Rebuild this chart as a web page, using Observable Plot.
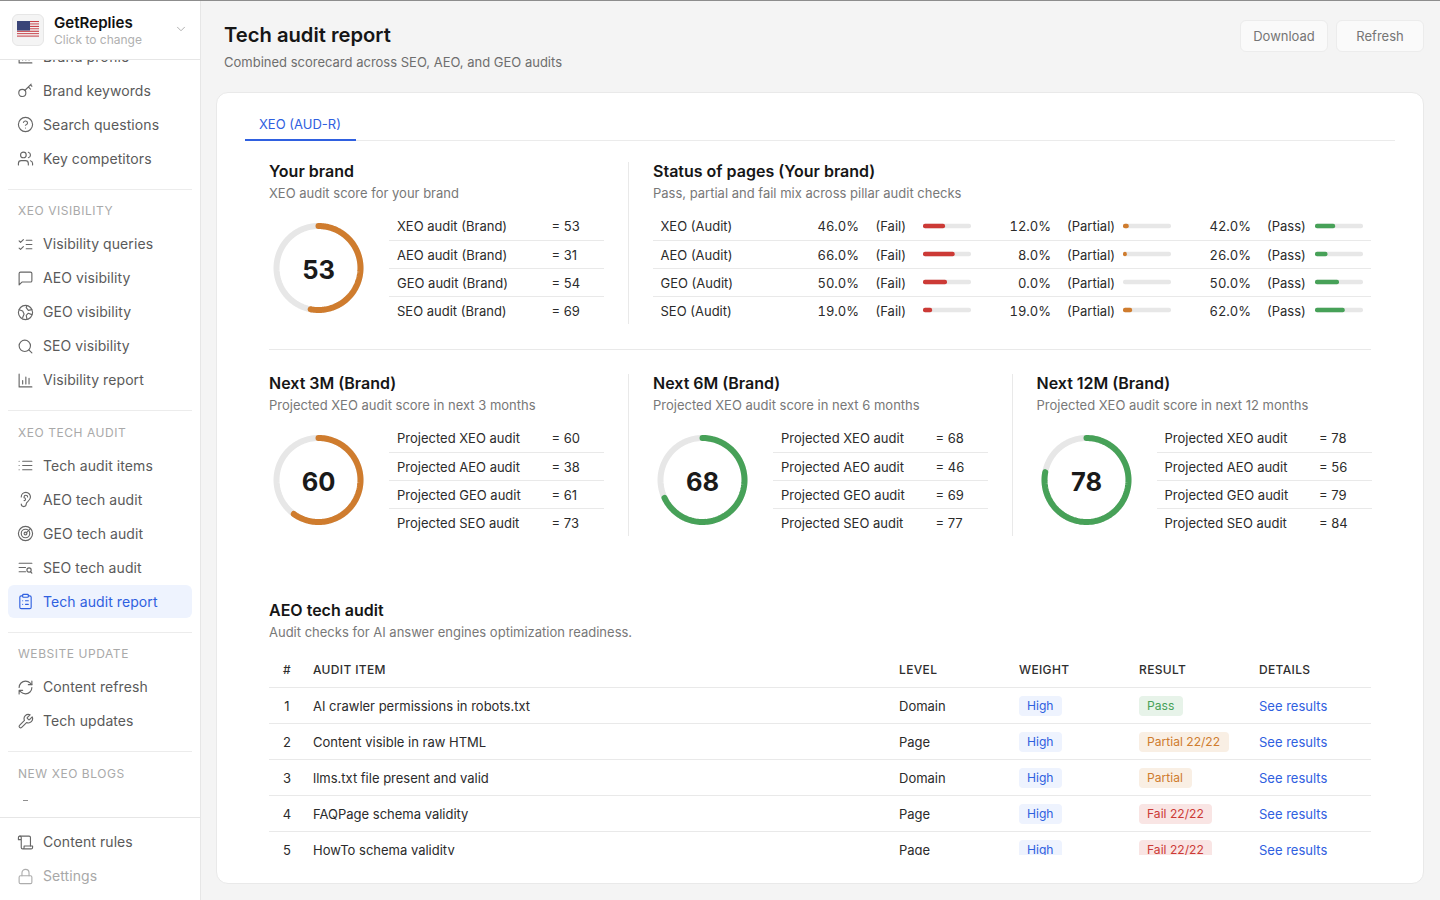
<!DOCTYPE html>
<html lang="en">
<head>
<meta charset="utf-8">
<title>Tech audit report</title>
<script src="https://cdn.jsdelivr.net/npm/d3@7"></script>
<script src="https://cdn.jsdelivr.net/npm/@observablehq/plot@0.6"></script>
<style>
html,body{margin:0;padding:0;width:1440px;height:900px;overflow:hidden;background:#f4f4f4;font-family:Inter,"Noto Sans",sans-serif;-webkit-font-smoothing:antialiased}
#page{position:absolute;left:0;top:0;width:1440px;height:900px;overflow:hidden}
.t{position:absolute;white-space:nowrap;transform:translateY(-50%);line-height:1.2}
.box{position:absolute;box-sizing:border-box}
.chart{position:absolute}
.chart svg{display:block;overflow:visible}
.ic{position:absolute;fill:none;stroke:#666;stroke-width:1.6;stroke-linecap:round;stroke-linejoin:round}
</style>
</head>
<body>
<div id="page"></div>
<script>
// ---------- chart values ----------
const brandLabels = ["XEO audit (Brand)", "AEO audit (Brand)", "GEO audit (Brand)", "SEO audit (Brand)"];
const brandScores = [53, 31, 54, 69];
const projectedLabels = ["Projected XEO audit", "Projected AEO audit", "Projected GEO audit", "Projected SEO audit"];
const next3MScores = [60, 38, 61, 73];
const next6MScores = [68, 46, 69, 77];
const next12MScores = [78, 56, 79, 84];

const pillars = ["XEO (Audit)", "AEO (Audit)", "GEO (Audit)", "SEO (Audit)"];
const failShare = [46, 66, 50, 19];
const partialShare = [12, 8, 0, 19];
const passShare = [42, 26, 50, 62];

const auditItems = ["AI crawler permissions in robots.txt", "Content visible in raw HTML", "llms.txt file present and valid", "FAQPage schema validity", "HowTo schema validity"];
const auditLevels = ["Domain", "Page", "Domain", "Page", "Page"];
const auditWeights = ["High", "High", "High", "High", "High"];
const auditResults = ["Pass", "Partial 22/22", "Partial", "Fail 22/22", "Fail 22/22"];
const auditHeaders = ["#", "AUDIT ITEM", "LEVEL", "WEIGHT", "RESULT", "DETAILS"];

const navGroups = [
  {items: [["Brand profile","chart"],["Brand keywords","key"],["Search questions","help"],["Key competitors","users"]]},
  {title:"XEO VISIBILITY", items: [["Visibility queries","checks"],["AEO visibility","msg"],["GEO visibility","globe"],["SEO visibility","search"],["Visibility report","chart"]]},
  {title:"XEO TECH AUDIT", items: [["Tech audit items","list"],["AEO tech audit","ear"],["GEO tech audit","radar"],["SEO tech audit","listsearch"],["Tech audit report","clip"]]},
  {title:"WEBSITE UPDATE", items: [["Content refresh","refresh"],["Tech updates","wrench"]]},
  {title:"NEW XEO BLOGS", items: []}
];

// ---------- palette ----------
const ORANGE="#cf7c2e", GREEN="#47a158", RED="#cc3a36", BLUE="#2f60e0", TRACK="#e7e7e7", LINE="#e9e9e9";
const INK="#2b2b2b", HEAD="#161616", MUTED="#787878";

// ---------- helpers ----------
const page=document.getElementById("page");
function text(parent,x,y,s,o={}){
  const e=document.createElement("div");e.className="t";e.textContent=s;
  e.style.left=x+"px";e.style.top=(y+(o.net?0:1))+"px";
  e.style.fontSize=(o.size||13)+"px";e.style.color=o.color||INK;e.style.fontWeight=o.weight||400;
  if(o.ls)e.style.letterSpacing=o.ls+"px";
  if(o.tab)e.style.fontVariantNumeric="tabular-nums";
  if(o.right){e.style.left="auto";e.style.right=(1440-x)+"px";}
  if(o.center){e.style.transform="translate(-50%,-50%)";}
  parent.appendChild(e);return e;
}
function box(parent,x,y,w,h,st={}){
  const e=document.createElement("div");e.className="box";
  e.style.left=x+"px";e.style.top=y+"px";e.style.width=w+"px";e.style.height=h+"px";
  Object.assign(e.style,st);parent.appendChild(e);return e;
}
const hline=(p,x1,x2,y,c=LINE)=>box(p,x1,y,x2-x1,1,{background:c});
const vline=(p,x,y1,y2,c=LINE)=>box(p,x,y1,1,y2-y1,{background:c});
const rowNudge=i=>i?0.8:0;

const icons={
  key:'<circle cx="7.5" cy="15.5" r="5"/><path d="m11 12 9-9M16 7l3 3M19 4l2 2"/>',
  help:'<circle cx="12" cy="12" r="10"/><path d="M9.1 9a3 3 0 0 1 5.8 1c0 2-3 3-3 3M12 17h.01"/>',
  users:'<path d="M16 21v-2a4 4 0 0 0-4-4H6a4 4 0 0 0-4 4v2"/><circle cx="9" cy="7" r="4"/><path d="M22 21v-2a4 4 0 0 0-3-3.87M16 3.13a4 4 0 0 1 0 7.75"/>',
  checks:'<path d="m3 7 2 2 4-4M3 17l2 2 4-4M13 6h8M13 12h8M13 18h8"/>',
  msg:'<path d="M21 15a2 2 0 0 1-2 2H7l-4 4V5a2 2 0 0 1 2-2h14a2 2 0 0 1 2 2z"/>',
  globe:'<circle cx="12" cy="12" r="10"/><path d="M3 8l5 2 2 4-2 5M21 8l-5 1-3-4 1-3M21 15l-5-2-3 3 1 5"/>',
  search:'<circle cx="11" cy="11" r="8"/><path d="m21 21-4.3-4.3"/>',
  chart:'<path d="M3 3v18h18M8 17v-5M12.5 17V7M17 17v-8"/>',
  list:'<path d="M8 6h13M8 12h13M8 18h13M3 6h.01M3 12h.01M3 18h.01"/>',
  ear:'<path d="M6 8.5a6.5 6.5 0 1 1 13 0c0 6-6 6-6 10a3.5 3.5 0 1 1-7 0"/><path d="M15 8.5a2.5 2.5 0 0 0-5 0v1a2 2 0 1 1 0 4"/>',
  radar:'<circle cx="12" cy="12" r="10"/><circle cx="12" cy="12" r="6"/><circle cx="12" cy="12" r="2"/><path d="m13 11 6-6"/>',
  listsearch:'<path d="M3 6h18M3 12h9M3 18h9"/><circle cx="17" cy="15.5" r="3"/><path d="m21 20-1.8-2"/>',
  clip:'<rect x="8" y="2" width="8" height="4" rx="1"/><path d="M16 4h2a2 2 0 0 1 2 2v14a2 2 0 0 1-2 2H6a2 2 0 0 1-2-2V6a2 2 0 0 1 2-2h2M12 11h4M12 16h4M8 11h.01M8 16h.01"/>',
  refresh:'<path d="M3 12a9 9 0 0 1 9-9 9.75 9.75 0 0 1 6.74 2.74L21 8"/><path d="M21 3v5h-5M21 12a9 9 0 0 1-9 9 9.75 9.75 0 0 1-6.74-2.74L3 16M8 16H3v5"/>',
  wrench:'<path d="M14.7 6.3a1 1 0 0 0 0 1.4l1.6 1.6a1 1 0 0 0 1.4 0l3.77-3.77a6 6 0 0 1-7.94 7.94l-6.91 6.91a2.12 2.12 0 0 1-3-3l6.91-6.91a6 6 0 0 1 7.94-7.94l-3.76 3.76z"/>',
  scroll:'<path d="M8 21h12a2 2 0 0 0 2-2v-2H10v2a2 2 0 1 1-4 0V5a2 2 0 1 0-4 0v3h4"/><path d="M19 17V5a2 2 0 0 0-2-2H4"/>',
  lock:'<rect x="3" y="11" width="18" height="11" rx="2"/><path d="M7 11V7a5 5 0 0 1 10 0v4"/>',
  chev:'<path d="m6 9 6 6 6-6"/>'
};
function icon(parent,name,cx,cy,color,size=17){
  const d=document.createElement("div");
  d.innerHTML=`<svg class="ic" viewBox="0 0 24 24" width="${size}" height="${size}" style="left:${cx-size/2}px;top:${cy-size/2}px;stroke:${color||"#666"}">${icons[name]}</svg>`;
  parent.appendChild(d.firstChild);
}
const scoreColor=s=>s>=65?GREEN:s>=40?ORANGE:RED;

// ---------- Plot marks ----------
function donut(cx,cy,score){
  const ring=f=>d3.range(0,121).map(i=>{const a=i/120*f*2*Math.PI;return {x:Math.sin(a),y:Math.cos(a)};});
  const half=50/42;
  const p=Plot.plot({
    width:100,height:100,margin:0,
    x:{domain:[-half,half],axis:null},
    y:{domain:[-half,half],axis:null},
    style:{background:"transparent"},
    marks:[
      Plot.line(ring(1),{x:"x",y:"y",dx:-1,dy:-0.5,stroke:TRACK,strokeWidth:6,curve:"linear"}),
      Plot.line(ring(score/100),{x:"x",y:"y",dx:-1,dy:-0.5,stroke:scoreColor(score),strokeWidth:6,strokeLinecap:"round",curve:"linear"}),
      Plot.text([score],{x:()=>0,y:()=>0,text:d=>String(d),dx:-1,dy:2,fontSize:25.5,fontWeight:700,fill:"#1a1a1a",fontFamily:"Inter"})
    ]
  });
  const w=document.createElement("div");w.className="chart";
  w.style.left=(cx-50)+"px";w.style.top=(cy-50)+"px";w.appendChild(p);page.appendChild(w);
}
function statusBars(x,y,values,color){
  const rows=pillars.map((p,i)=>({pillar:p,value:values[i]}));
  const p=Plot.plot({
    width:48,height:112,margin:0,
    x:{domain:[0,100],axis:null},
    y:{domain:pillars,axis:null,paddingInner:0.84,paddingOuter:0.42,align:0.5,round:false},
    style:{background:"transparent"},
    marks:[
      Plot.barX(rows,{x1:()=>0,x2:()=>100,y:"pillar",fill:TRACK,rx:2}),
      Plot.barX(rows,{x1:()=>0,x2:"value",y:"pillar",fill:color,rx:2})
    ]
  });
  const w=document.createElement("div");w.className="chart";
  w.style.left=x+"px";w.style.top=y+"px";w.appendChild(p);page.appendChild(w);
}

// ---------- main header ----------
box(page,0,0,1440,1,{background:"#8d8d8d",zIndex:5});
text(page,224,34,"Tech audit report",{size:20.2,weight:600,color:HEAD});
text(page,224,62,"Combined scorecard across SEO, AEO, and GEO audits",{size:13,color:"#6e6e6e"});
[["Download",1240,88],["Refresh",1336,88]].forEach(([s,x,w])=>{
  box(page,x,20,w,32,{background:"#fafafa",border:"1px solid #ececec",borderRadius:"6px"});
  text(page,x+w/2,36.5,s,{size:13,color:"#757575",center:true,net:true});
});

// ---------- card ----------
box(page,216,92,1208,792,{background:"#fff",border:"1px solid #e9e9e9",borderRadius:"12px"});
text(page,259,124,"XEO (AUD-R)",{size:13,color:BLUE});
hline(page,245,1395,140,"#ebebeb");
box(page,245,139,111,2,{background:BLUE});

// ---------- score panels ----------
function panel(x,y,title,sub,score,labels,scores){
  text(page,x,y,title,{size:16,weight:600,color:HEAD});
  text(page,x,y+22,sub,{size:13,color:MUTED});
  donut(x+50,y+97,score);
  labels.forEach((l,i)=>{
    const ry=y+55+i*28;
    text(page,x+128,ry+rowNudge(i),l,{size:13});
    text(page,x+282.5,ry+rowNudge(i),"= "+scores[i],{size:13});
    if(i<3)hline(page,x+120,x+335,ry+14);
  });
}
panel(269,171,"Your brand","XEO audit score for your brand",brandScores[0],brandLabels,brandScores);
vline(page,628,162,324);
hline(page,269,1371,349);
panel(269,383,"Next 3M (Brand)","Projected XEO audit score in next 3 months",next3MScores[0],projectedLabels,next3MScores);
vline(page,628,374,536);
panel(653,383,"Next 6M (Brand)","Projected XEO audit score in next 6 months",next6MScores[0],projectedLabels,next6MScores);
vline(page,1012,374,536);
panel(1036.5,383,"Next 12M (Brand)","Projected XEO audit score in next 12 months",next12MScores[0],projectedLabels,next12MScores);

// ---------- status of pages ----------
text(page,653,171,"Status of pages (Your brand)",{size:16,weight:600,color:HEAD});
text(page,653,193,"Pass, partial and fail mix across pillar audit checks",{size:13,color:MUTED});
pillars.forEach((p,i)=>{
  const y=226+i*28, ty=y+rowNudge(i);
  text(page,660.5,ty,p,{size:13});
  text(page,859,ty,failShare[i].toFixed(1)+"%",{size:13,right:true,tab:true});
  text(page,875.5,ty,"(Fail)",{size:13});
  text(page,1051,ty,partialShare[i].toFixed(1)+"%",{size:13,right:true,tab:true});
  text(page,1067,ty,"(Partial)",{size:13});
  text(page,1251,ty,passShare[i].toFixed(1)+"%",{size:13,right:true,tab:true});
  text(page,1267,ty,"(Pass)",{size:13});
  if(i<3)hline(page,653,1371,y+14);
});
statusBars(923,212,failShare,RED);
statusBars(1123,212,partialShare,ORANGE);
statusBars(1315,212,passShare,GREEN);

// ---------- audit table ----------
text(page,269,610,"AEO tech audit",{size:16,weight:600,color:HEAD});
text(page,269,632,"Audit checks for AI answer engines optimization readiness.",{size:13,color:MUTED});
const clip=box(page,0,0,1440,855,{overflow:"hidden"});
const cols=[283,313,899,1019,1139,1259];
auditHeaders.forEach((h,i)=>text(clip,cols[i],669,h,{size:12,weight:500,ls:0.35,color:"#2e2e2e"}));
hline(clip,269,1371,687);
const badge={Pass:[GREEN,"#e7f3e9"],Partial:[ORANGE,"#f9efe4"],Fail:[RED,"#f9e5e4"]};
const badgeW={"Pass":44,"Partial 22/22":90,"Partial":53,"Fail 22/22":73};
auditItems.forEach((it,i)=>{
  const y=705.5+i*36;
  text(clip,287,y,String(i+1),{size:13,center:true});
  text(clip,313,y,it,{size:13});
  text(clip,899,y,auditLevels[i],{size:13});
  box(clip,1019,y-10,43,20,{background:"#eef3fe",borderRadius:"4px"});
  text(clip,1027,y,auditWeights[i],{size:12.1,color:BLUE,net:true});
  const r=auditResults[i],c=badge[r.split(" ")[0]];
  box(clip,1139,y-10,badgeW[r],20,{background:c[1],borderRadius:"4px"});
  text(clip,1147,y,r,{size:12.1,color:c[0],net:true});
  text(clip,1259,y,"See results",{size:13,color:BLUE});
  if(i<4)hline(clip,269,1371,y+17.5);
});

// ---------- sidebar ----------
box(page,0,0,201,900,{background:"#fff",borderRight:"1px solid #e6e6e6"});
const navY={"Brand profile":56.5,"Brand keywords":90.5,"Search questions":124.5,"Key competitors":158.5,
"Visibility queries":244,"AEO visibility":278,"GEO visibility":312,"SEO visibility":346,"Visibility report":380,
"Tech audit items":465.5,"AEO tech audit":499.5,"GEO tech audit":533.5,"SEO tech audit":567.5,"Tech audit report":601.5,
"Content refresh":687,"Tech updates":721};
const titleY={"XEO VISIBILITY":211,"XEO TECH AUDIT":432.5,"WEBSITE UPDATE":654,"NEW XEO BLOGS":773.5};
[189,410,632,751].forEach(y=>hline(page,8,192,y,"#ececec"));
box(page,8,585,184,33,{background:"#eef3fe",borderRadius:"6px"});
navGroups.forEach(g=>{
  if(g.title)text(page,18,titleY[g.title],g.title,{size:12,ls:0.55,color:"#a9a9a9",net:true});
  g.items.forEach(([s,ic])=>{
    const active=s==="Tech audit report";
    icon(page,ic,25.5,navY[s],active?BLUE:"#666");
    text(page,43,navY[s],s,{size:14,ls:0.08,color:active?BLUE:"#5a5a5a",net:true});
  });
});
box(page,23,800,5,1,{background:"#777"});
// brand switcher on top of the scrolled list
box(page,0,1,200,59,{background:"#fff",borderBottom:"1px solid #e6e6e6"});
box(page,12,14,32,32,{background:"#f4f4f4",border:"1px solid #e6e6e6",borderRadius:"6px"});
const flag=document.createElement("div");
flag.innerHTML=`<svg style="position:absolute;left:17px;top:21px" width="22" height="17" viewBox="0 0 22 17">${d3.range(7).map(i=>`<rect y="${i*17/7}" width="22" height="${17/14}" fill="#c9434b"/><rect y="${(i+.5)*17/7}" width="22" height="${17/14}" fill="#f2f2f2"/>`).join("")}<rect width="13" height="9.5" fill="#3a4578"/></svg>`;
page.appendChild(flag.firstChild);
text(page,54,22,"GetReplies",{size:15.1,weight:600,color:"#111"});
text(page,54,39.5,"Click to change",{size:12,color:"#b0b0b0",net:true});
icon(page,"chev",181,29,"#aaaaaa",14);
// footer
box(page,0,797,200,20,{background:"linear-gradient(to bottom,rgba(255,255,255,0),#fff)",zIndex:1});
box(page,0,817,200,83,{background:"#fff",borderTop:"1px solid #e6e6e6",zIndex:1});
const foot=box(page,0,0,200,900,{zIndex:2});
icon(foot,"scroll",25.5,842);
text(foot,43,842,"Content rules",{size:14,ls:0.08,color:"#5a5a5a",net:true});
icon(foot,"lock",25.5,876,"#adadad");
text(foot,43,876,"Settings",{size:14,ls:0.08,color:"#a8a8a8",net:true});
</script>
</body>
</html>
